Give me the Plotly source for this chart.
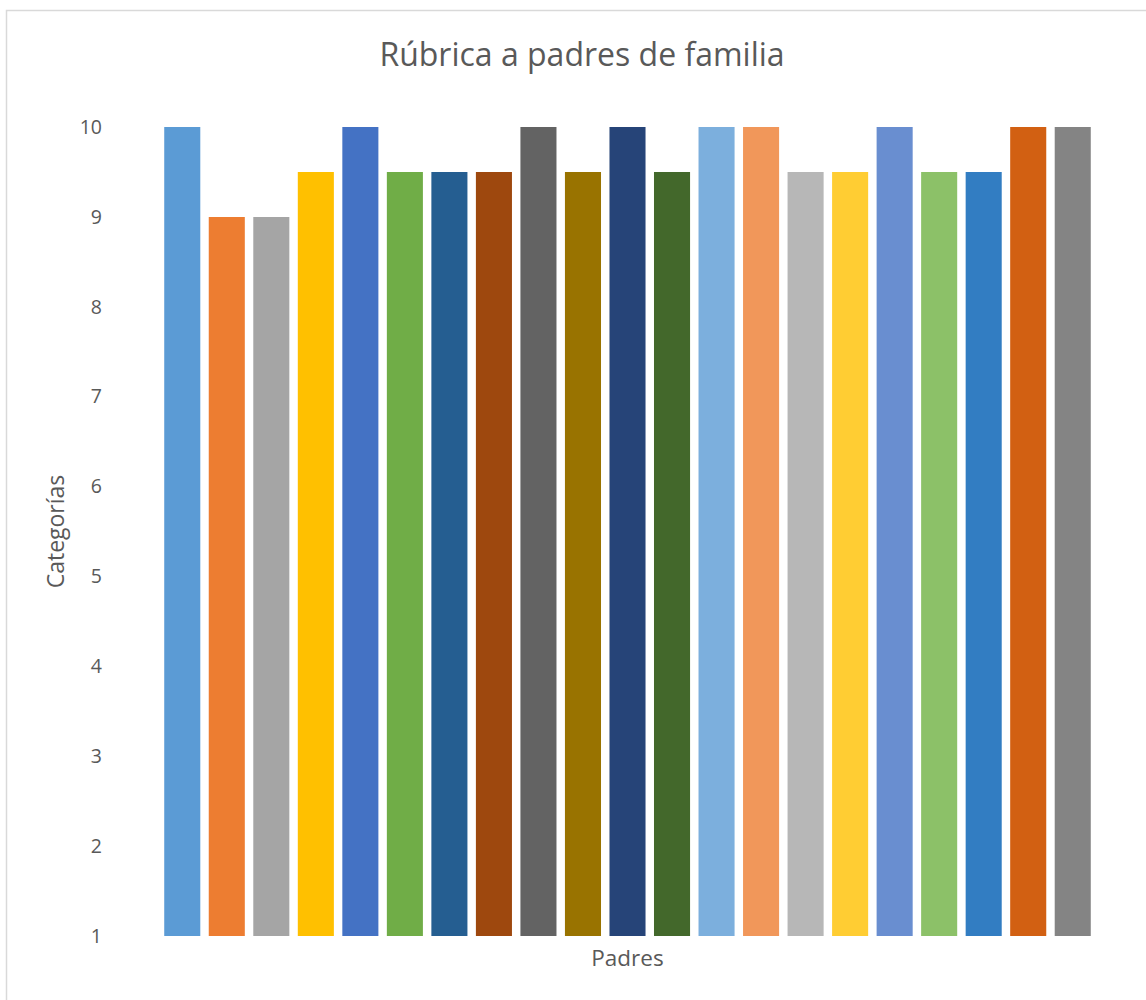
import plotly.graph_objects as go

padres = [f"P{i}" for i in range(1, 22)]
valores = [10, 9, 9, 9.5, 10, 9.5, 9.5, 9.5, 10, 9.5, 10, 9.5, 10, 10, 9.5, 9.5, 10, 9.5, 9.5, 10, 10]
colores = ["#5B9BD5", "#ED7D31", "#A5A5A5", "#FFC000", "#4472C4", "#70AD47", "#255E91",
           "#9E480E", "#636363", "#997300", "#264478", "#43682B", "#7CAFDD", "#F1975A",
           "#B7B7B7", "#FFCD33", "#698ED0", "#8CC168", "#327DC2", "#D26012", "#848484"]
y_ticks = list(range(1, 11))

W, H = 1146, 1000
L, R, T, B = 160, 51, 127, 64
pw, ph = W - L - R, H - T - B

fig = go.Figure(go.Bar(x=padres, y=valores, marker=dict(color=colores, line=dict(width=0)),
                       showlegend=False))

def px_to_paper_x(px):
    return (px - L) / pw

def px_to_paper_y(py):
    return (H - B - py) / ph

FONT = "Open Sans, sans-serif"
fig.update_layout(
    width=W, height=H,
    margin=dict(l=L, r=R, t=T, b=B),
    paper_bgcolor="white", plot_bgcolor="white",
    bargap=0.19,
    font=dict(family=FONT, color="#595959"),
    title=dict(text="Rúbrica a padres de familia", x=582 / W, xanchor="center",
               y=1 - 55 / H, yanchor="middle", font=dict(family=FONT, size=32, color="#595959")),
    xaxis=dict(showticklabels=False, showgrid=False, zeroline=False, showline=False, ticks="",
               title=dict(text="Padres", font=dict(family=FONT, size=22.5, color="#595959"), standoff=14)),
    yaxis=dict(range=[1, 10], tickvals=y_ticks, showgrid=False, zeroline=False, showline=False,
               ticks="", tickfont=dict(family=FONT, size=19.5, color="#595959"), ticklabelstandoff=57,
               title=dict(text="Categorías", font=dict(family=FONT, size=23, color="#595959"), standoff=8)),
    shapes=[dict(type="rect", xref="paper", yref="paper",
                 x0=px_to_paper_x(6.5), x1=px_to_paper_x(1150),
                 y0=px_to_paper_y(1005), y1=px_to_paper_y(10.5),
                 line=dict(color="#D9D9D9", width=1.5), fillcolor="rgba(0,0,0,0)", layer="below")],
)

fig.write_html("out.html")
